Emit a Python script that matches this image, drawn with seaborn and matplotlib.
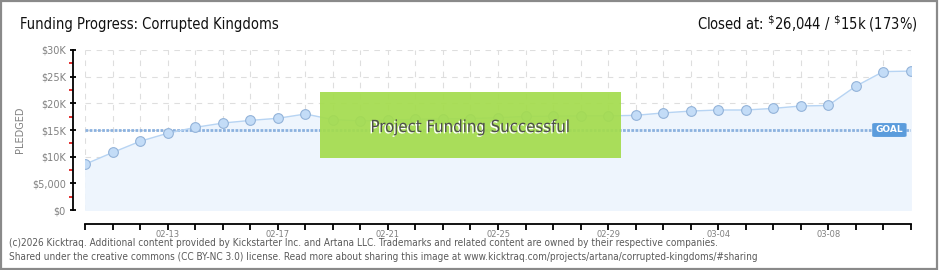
import matplotlib
matplotlib.use("Agg")
import matplotlib.pyplot as plt
import matplotlib.patheffects as pe
from matplotlib.patches import Rectangle, FancyBboxPatch
from matplotlib.ticker import MultipleLocator
import seaborn as sns
import pandas as pd
import numpy as np

# ---- data ----
dates = ["02-10", "02-11", "02-12", "02-13", "02-14", "02-15", "02-16", "02-17",
         "02-18", "02-19", "02-20", "02-21", "02-22", "02-23", "02-24", "02-25",
         "02-26", "02-27", "02-28", "02-29", "03-01", "03-02", "03-03", "03-04",
         "03-05", "03-06", "03-07", "03-08", "03-09", "03-10", "03-11"]
pledged = [8600, 10800, 12900, 14400, 15500, 16300, 16800, 17200,
           18000, 16950, 16700, 16850, 17000, 17100, 17150, 17300,
           17550, 17600, 17650, 17650, 17750, 18200, 18550, 18750,
           18750, 19050, 19500, 19600, 23200, 25950, 26044]
goal = 15000
ytick_values = [0, 5000, 10000, 15000, 20000, 25000, 30000]
ytick_labels = ["$0", "$5,000", "$10K", "$15K", "$20K", "$25K", "$30K"]
xlabel_every = 4
xlabel_start = 3

title = "Funding Progress: Corrupted Kingdoms"
closed_text = r"Closed at: $^{\$}$26,044 / $^{\$}$15k (173%)"
banner = "Project Funding Successful"
footer1 = ("(c)2026 Kicktraq. Additional content provided by Kickstarter Inc. and Artana LLC. "
           "Trademarks and related content are owned by their respective companies.")
footer2 = ("Shared under the creative commons (CC BY-NC 3.0) license. Read more about sharing "
           "this image at www.kicktraq.com/projects/artana/corrupted-kingdoms/#sharing")

df = pd.DataFrame({"day": np.arange(len(dates)), "date": dates, "pledged": pledged})

# ---- figure ----
sns.set_style("white")
plt.rcParams["font.family"] = ["DejaVu Sans"]
W, H = 940, 270
fig = plt.figure(figsize=(W / 100, H / 100), dpi=100)
fig.patch.set_facecolor("white")

x0, x1, ytop, ybot = 85.3, 910.7, 50, 210
ax = fig.add_axes([x0 / W, (H - ybot) / H, (x1 - x0) / W, (ybot - ytop) / H])
ax.set_facecolor("none")

n = len(dates)
ax.set_xlim(0, n - 1)
ax.set_ylim(0, 30000)

# grid
ax.xaxis.set_major_locator(MultipleLocator(1))
ax.yaxis.set_major_locator(MultipleLocator(5000))
ax.yaxis.set_minor_locator(MultipleLocator(2500))
ax.grid(True, which="major", color="#dedede", linestyle=(0, (5, 5)), linewidth=0.8)
ax.set_axisbelow(True)

# area + line
ax.fill_between(df["day"], df["pledged"], 0, color="#eef5fd", zorder=1)
sns.lineplot(data=df, x="day", y="pledged", ax=ax, color="#b7d4f3", linewidth=1.0,
             marker="o", markersize=7, markerfacecolor="#c3dcf7",
             markeredgecolor="#93b3d9", markeredgewidth=0.8, zorder=3)

# goal line
ax.axhline(goal, color="#8cb2df", linewidth=2.0, linestyle=(0, (1.0, 0.5)), zorder=2)
gbox = FancyBboxPatch((28.6, goal - 1300), 1.25, 2600, boxstyle="round,pad=0,rounding_size=0.1",
                      facecolor="#5b9cdc", edgecolor="none", zorder=6,
                      mutation_aspect=2000)
ax.add_patch(gbox)
ax.text(29.22, goal, "GOAL", color="white", fontsize=6.5, fontweight="bold",
        ha="center", va="center", zorder=7)

# spines / ticks
for s in ["top", "right"]:
    ax.spines[s].set_visible(False)
for s in ["left", "bottom"]:
    ax.spines[s].set_visible(True)
    ax.spines[s].set_color("black")
    ax.spines[s].set_linewidth(1.3)
    ax.spines[s].set_zorder(5)
ax.spines["left"].set_position(("outward", 9))
ax.spines["bottom"].set_position(("outward", 10))

ax.set_yticks(ytick_values)
ax.set_yticklabels(ytick_labels)
ax.tick_params(axis="y", which="major", left=True, direction="inout", length=4, width=1.3,
               color="black", labelcolor="#808080", labelsize=7, pad=3)
ax.tick_params(axis="y", which="minor", left=True, direction="out", length=3, width=1.3,
               color="#e02020")

ax.set_xticks(df["day"])
ax.set_xticklabels([d if (i - xlabel_start) % xlabel_every == 0 and i >= xlabel_start else ""
                    for i, d in enumerate(dates)])
ax.tick_params(axis="x", which="major", bottom=True, direction="out", length=4, width=1.3,
               color="black", labelcolor="#808080", labelsize=6, pad=0.5)
ax.set_xlabel("")
ax.set_ylabel("")

# y label
fig.text(20 / W, 1 - 130 / H, "PLEDGED", rotation=90, color="#808080",
         fontsize=7, ha="center", va="center")

# banner
bx0, bx1, by0, by1 = 320, 621, 92, 158
fig.patches.append(Rectangle((bx0 / W, 1 - by1 / H), (bx1 - bx0) / W, (by1 - by0) / H,
                             transform=fig.transFigure, facecolor="#a4dc4e", alpha=0.93,
                             edgecolor="none", zorder=10))
fig.text((bx0 + bx1) / 2 / W, 1 - 127 / H, banner, color="#4e4e4e", fontsize=12,
         fontstretch="condensed", ha="center", va="center", zorder=11,
         path_effects=[pe.withSimplePatchShadow(offset=(-1, -1), shadow_rgbFace="white",
                                                alpha=1.0)])

# titles
fig.text(20 / W, 1 - 24 / H, title, fontsize=10.5, fontstretch="condensed",
         color="#111111", ha="left", va="center")
fig.text(918 / W, 1 - 24 / H, closed_text, fontsize=10.5, fontstretch="condensed",
         color="#111111", ha="right", va="center")

# footer
fig.text(9 / W, 1 - 243.5 / H, footer1, fontsize=7.2, color="#5a5a5a", ha="left",
         va="center", fontstretch="condensed")
fig.text(9 / W, 1 - 257.5 / H, footer2, fontsize=7.2, color="#5a5a5a", ha="left",
         va="center", fontstretch="condensed")

# outer frame
fig.patches.append(Rectangle((0.001, 0.002), 0.996, 0.996, transform=fig.transFigure,
                             facecolor="none", edgecolor="#8a8a8a", linewidth=1.6, zorder=20))

fig.savefig("out.png", dpi=100, facecolor="white")
